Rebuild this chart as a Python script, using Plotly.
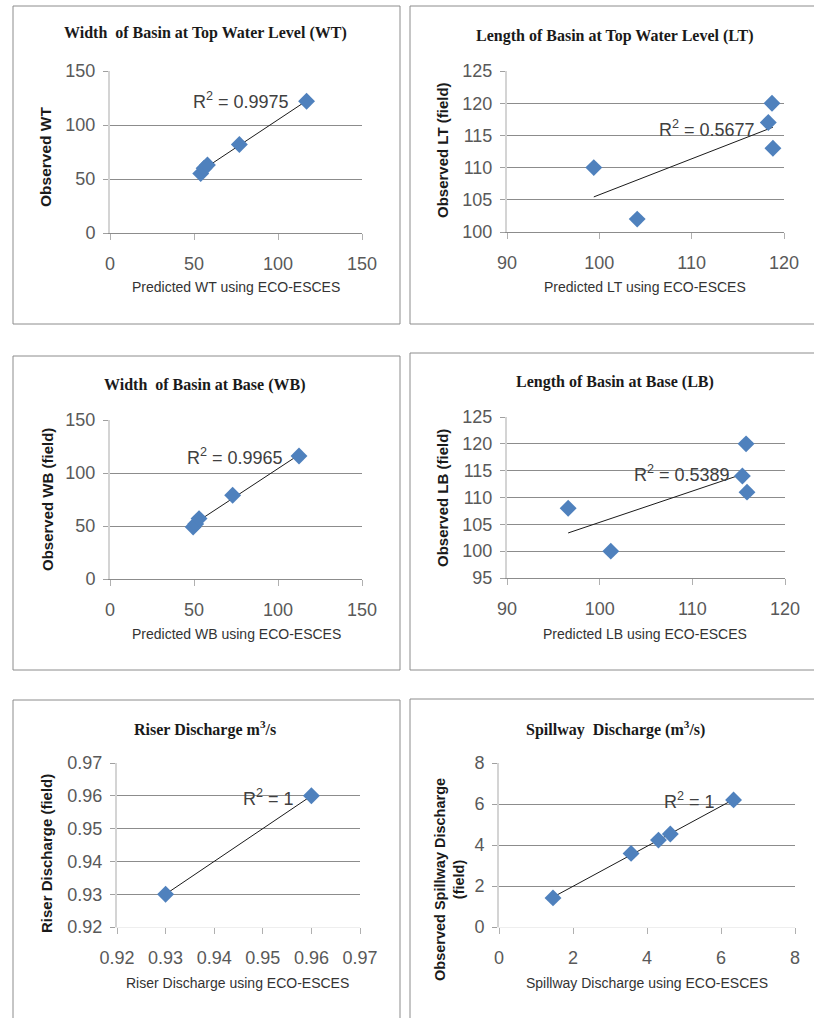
import numpy as np
import plotly.graph_objects as go

# ---------------- data ----------------
wt_pred = [54, 56, 58, 77, 117]
wt_obs = [55, 60, 63, 82, 122]

lt_pred = [118.7, 118.3, 118.8, 99.4, 104.1]
lt_obs = [120, 117, 113, 110, 102]

wb_pred = [49.5, 51, 53, 73, 112.5]
wb_obs = [49, 52, 57, 79, 116]

lb_pred = [115.8, 115.4, 115.9, 96.6, 101.2]
lb_obs = [120, 114, 111, 108, 100]

riser_pred = [0.93, 0.96]
riser_obs = [0.93, 0.96]

spill_pred = [1.46, 3.57, 4.31, 4.63, 6.34]
spill_obs = [1.42, 3.59, 4.24, 4.54, 6.2]

titles = ["Width  of Basin at Top Water Level (WT)",
          "Length of Basin at Top Water Level (LT)",
          "Width  of Basin at Base (WB)",
          "Length of Basin at Base (LB)",
          "Riser Discharge m<sup>3</sup>/s",
          "Spillway  Discharge (m<sup>3</sup>/s)"]
x_titles = ["Predicted WT using ECO-ESCES", "Predicted LT using ECO-ESCES",
            "Predicted WB using ECO-ESCES", "Predicted LB using ECO-ESCES",
            "Riser Discharge using ECO-ESCES", "Spillway Discharge using ECO-ESCES"]
y_titles = ["Observed WT", "Observed LT (field)", "Observed WB (field)",
            "Observed LB (field)", "Riser Discharge (field)",
            "Observed Spillway Discharge<br>(field)"]
r2_texts = ["R<sup>2</sup> = 0.9975", "R<sup>2</sup> = 0.5677", "R<sup>2</sup> = 0.9965",
            "R<sup>2</sup> = 0.5389", "R<sup>2</sup> = 1", "R<sup>2</sup> = 1"]
x_ranges = [[0, 150], [90, 120], [0, 150], [90, 120], [0.92, 0.97], [0, 8]]
y_ranges = [[0, 150], [100, 125], [0, 150], [95, 125], [0.92, 0.97], [0, 8]]
x_dticks = [50, 10, 50, 10, 0.01, 2]
y_dticks = [50, 5, 50, 5, 0.01, 2]

series_x = [wt_pred, lt_pred, wb_pred, lb_pred, riser_pred, spill_pred]
series_y = [wt_obs, lt_obs, wb_obs, lb_obs, riser_obs, spill_obs]

# ---------------- layout (pixels) ----------------
W, H = 814, 1018
plot_px = [(110, 362, 71, 233), (507, 784, 71, 232),
           (110, 362, 420, 579), (507, 785, 417, 578),
           (117, 360, 763, 927), (499, 795, 763, 927)]
box_px = [(13, 400, 6, 324), (410, 816, 6, 324),
          (13, 400, 356, 670), (410, 816, 353, 670),
          (13, 400, 700, 1030), (410, 816, 699, 1030)]
title_px = [(205, 33), (615, 36), (205, 385), (615, 382), (205, 728), (615, 728)]
xt_px = [(236, 287), (645, 287), (236, 634), (645, 634), (238, 983), (647, 983)]
yt_px = [(45, 157), (443, 150), (47, 500), (442, 498), (46, 854), (449, 880)]
yt_size = [15.5, 15, 15, 15, 15, 14.5]
r2_px = [(241, 100), (707, 128), (235, 456), (682, 473), (268, 797), (689, 800)]


def fx(p):
    return p / W


def fy(p):
    return 1 - p / H


fig = go.Figure()
annotations = []
shapes = []
GRID = "#8c8c8c"
TICKC = "#595959"

for i in range(6):
    n = "" if i == 0 else str(i + 1)
    xa, ya = "x" + n, "y" + n
    xs = np.array(series_x[i], dtype=float)
    ys = np.array(series_y[i], dtype=float)
    # trendline (least squares), over data x-range
    k, b = np.polyfit(xs, ys, 1)
    tx = np.array([xs.min(), xs.max()])
    fig.add_trace(go.Scatter(x=tx, y=k * tx + b, mode="lines",
                             line=dict(color="#1a1a1a", width=1),
                             xaxis=xa, yaxis=ya, showlegend=False, hoverinfo="skip"))
    fig.add_trace(go.Scatter(x=xs, y=ys, mode="markers",
                             marker=dict(symbol="diamond", size=13, color="#4F81BD",
                                         line=dict(width=0)),
                             xaxis=xa, yaxis=ya, showlegend=False))
    x0, x1, y0, y1 = plot_px[i]
    bottom_line = "#8c8c8c" if i < 4 else "#eeeeee"
    fmt = ".2f" if i == 4 else ""
    fig.layout["xaxis" + n] = dict(
        domain=[fx(x0), fx(x1)], anchor=ya, range=x_ranges[i], dtick=x_dticks[i],
        tick0=x_ranges[i][0], showgrid=False, zeroline=False, showline=True,
        linecolor=bottom_line, linewidth=1, ticks="outside", ticklen=6,
        tickcolor="#b0b0b0", tickformat=fmt, ticklabelstandoff=8, automargin=False,
        tickfont=dict(family="Liberation Sans, Arial", size=18, color=TICKC))
    fig.layout["yaxis" + n] = dict(
        domain=[fy(y1), fy(y0)], anchor=xa, range=y_ranges[i], dtick=y_dticks[i],
        tick0=y_ranges[i][0], showgrid=True, gridcolor=GRID, gridwidth=1,
        zeroline=False, showline=True, linecolor="#d4d4d4", linewidth=2,
        ticks="outside", ticklen=5, tickcolor="#a0a0a0", tickformat=fmt,
        ticklabelstandoff=4, automargin=False,
        tickfont=dict(family="Liberation Sans, Arial", size=18, color=TICKC))

    bx0, bx1, by0, by1 = box_px[i]
    shapes.append(dict(type="rect", xref="paper", yref="paper",
                       x0=fx(bx0), x1=fx(bx1), y0=fy(by1), y1=fy(by0),
                       line=dict(color="#8c8c8c", width=1), layer="below"))
    tx_, ty_ = title_px[i]
    annotations.append(dict(text="<b>" + titles[i] + "</b>", x=fx(tx_), y=fy(ty_),
                            xref="paper", yref="paper", showarrow=False,
                            xanchor="center", yanchor="middle",
                            font=dict(family="Liberation Serif, Times New Roman", size=16,
                                      color="#1a1a1a")))
    ax_, ay_ = xt_px[i]
    annotations.append(dict(text=x_titles[i], x=fx(ax_), y=fy(ay_),
                            xref="paper", yref="paper", showarrow=False,
                            xanchor="center", yanchor="middle",
                            font=dict(family="Liberation Sans, Arial", size=14,
                                      color="#333333")))
    yx_, yy_ = yt_px[i]
    annotations.append(dict(text="<b>" + y_titles[i] + "</b>", x=fx(yx_), y=fy(yy_),
                            xref="paper", yref="paper", showarrow=False,
                            xanchor="center", yanchor="middle", textangle=-90,
                            font=dict(family="Liberation Sans, Arial", size=yt_size[i],
                                      color="#1a1a1a")))
    rx_, ry_ = r2_px[i]
    annotations.append(dict(text=r2_texts[i], x=fx(rx_), y=fy(ry_),
                            xref="paper", yref="paper", showarrow=False,
                            xanchor="center", yanchor="middle",
                            font=dict(family="Liberation Sans, Arial", size=18,
                                      color="#404040")))

fig.update_layout(width=W, height=H, margin=dict(l=0, r=0, t=0, b=0, pad=0),
                  autosize=False,
                  paper_bgcolor="white", plot_bgcolor="white",
                  annotations=annotations, shapes=shapes, showlegend=False)

fig.write_html("out.html", config={"displayModeBar": False},
               post_script="document.body.style.margin='0';document.body.style.overflow='hidden';")
